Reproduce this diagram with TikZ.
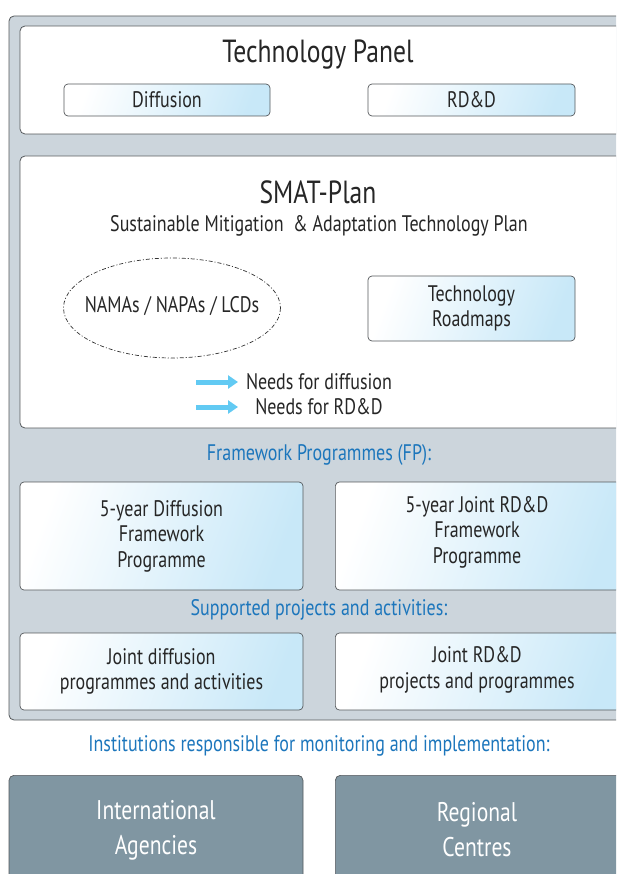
\documentclass[tikz,border=0pt]{standalone}
\usepackage{fontspec}
\setmainfont{PT Sans}[FakeStretch=0.8]
\usetikzlibrary{arrows.meta}

\definecolor{panelgray}{HTML}{CCD5DC}
\definecolor{framegray}{HTML}{55595C}
\definecolor{lightblue}{HTML}{C8E8F8}
\definecolor{headblue}{HTML}{1C76BC}
\definecolor{arrowblue}{HTML}{62CAF3}
\definecolor{steelgray}{HTML}{8096A2}

\tikzset{
  panel/.style={draw=framegray, line width=0.8pt, rounded corners=5pt},
  title/.style={font=\fontsize{32}{36}\selectfont, text=black!85},
  bluebox/.style={draw=framegray, line width=0.7pt, rounded corners=4pt,
    left color=white, right color=lightblue, shading angle=70,
    align=center, inner sep=0pt, text=black!85},
  instbox/.style={draw=framegray, line width=0.7pt, rounded corners=5pt,
    fill=steelgray, text=white, align=center, inner sep=0pt,
    font=\fontsize{27}{35}\selectfont},
  bluelabel/.style={text=headblue},
  dashdot/.style={draw=black!80, line width=0.7pt,
    dash pattern=on 4pt off 2pt on 1pt off 2pt},
  needarrow/.style={draw=arrowblue, line width=5pt,
    -{Triangle[length=10pt,width=13pt]}}
}

\begin{document}
\begin{tikzpicture}[x=1pt,y=-1pt,font=\fontsize{22.5}{25.5}\selectfont,text=black!85]
\useasboundingbox (0,0) rectangle (616,874);
\clip (0,0) rectangle (616,874);

\draw[panel, fill=panelgray] (9,16) rectangle (650,720);

% Technology Panel
\draw[panel, fill=white] (20,26) rectangle (640,134);
\node[title] (tp) at (318,55) {Technology Panel};
\node[bluebox, minimum width=206, minimum height=32] (diff) at (167,100) {Diffusion};
\node[bluebox, minimum width=207, minimum height=32] (rdd) at (471.5,100) {RD\&D};

% SMAT-Plan
\draw[panel, fill=white] (20,156) rectangle (640,428);
\node[title] (smat) at (318,192) {SMAT-Plan};
\node (sub) at (319,226) {Sustainable Mitigation \ \& Adaptation Technology Plan};
\node (nama) at (172,306) {NAMAs / NAPAs / LCDs};
\draw[dashdot] (172,308) ellipse (108.5 and 50);
\node[bluebox, minimum width=207, minimum height=65] (road) at (471.5,308.5) {Technology\\Roadmaps};

\coordinate (a1) at (196,382);
\coordinate (b1) at (238,382);
\coordinate (a2) at (196,407);
\coordinate (b2) at (238,407);
\draw[needarrow] (a1) -- (b1);
\draw[needarrow] (a2) -- (b2);
\node (nd) at (319,382) {Needs for diffusion};
\node (nr) at (319,407) {Needs for RD\&D};

% Framework Programmes
\node[bluelabel] (fp) at (319,455) {Framework Programmes (FP):};
\node[bluebox, minimum width=283, minimum height=108] (fpd) at (161.5,536) {5-year Diffusion\\Framework\\Programme};
\node[bluebox, minimum width=290, minimum height=108, anchor=west] (fpr) at (335,536) {};
\node[align=center] (fprt) at (477,532) {5-year Joint RD\&D\\Framework\\Programme};

% projects
\node[bluelabel] (sp) at (319,610) {Supported projects and activities:};
\node[bluebox, minimum width=283, minimum height=77] (jd) at (161.5,671.5) {Joint diffusion\\programmes and activities};
\node[bluebox, minimum width=290, minimum height=77, anchor=west] (jr) at (335,671.5) {};
\node[align=center] (jrt) at (477,670) {Joint RD\&D\\projects and programmes};

% Institutions
\node[bluelabel] (inst) at (319,746) {Institutions responsible for monitoring and implementation:};
\node[instbox, minimum width=294, minimum height=110, anchor=north] (intl) at (156,775) {International\\Agencies};
\node[instbox, minimum width=290, minimum height=110, anchor=north west] (reg) at (335,775) {};
\node[instbox, draw=none, fill=none] (regt) at (477,830) {Regional\\Centres};

\end{tikzpicture}
\end{document}
